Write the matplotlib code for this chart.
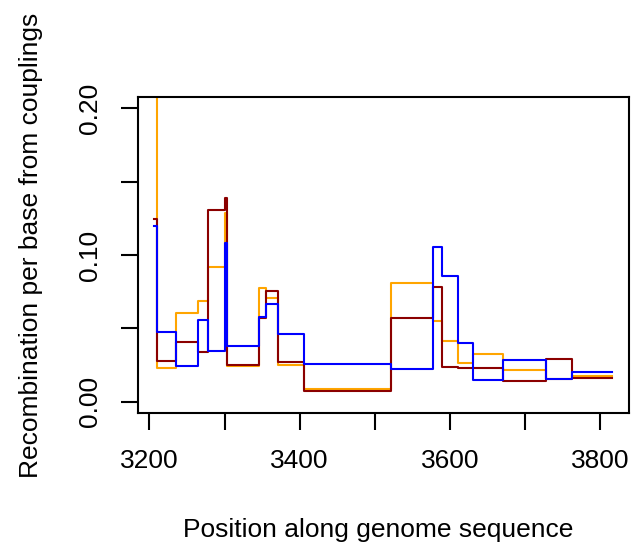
import matplotlib
matplotlib.use("Agg")
import matplotlib.pyplot as plt

# Breakpoints along the genome (segment edges)
positions = [3206.6, 3210.6, 3235.1, 3265.2, 3277.7, 3300.7, 3303.7, 3345.9,
             3354.8, 3371.5, 3405.7, 3521.4, 3577.7, 3589.2, 3610.1, 3630.9,
             3670.7, 3727.5, 3762.1, 3814.9]

# Per-segment values (one per interval between breakpoints)
orange_vals = [0.25, 0.0232, 0.0604, 0.069, 0.0922, 0.129, 0.0246, 0.0778,
               0.071, 0.025, 0.0087, 0.0808, 0.0553, 0.0417, 0.0262, 0.0326,
               0.0216, 0.0155, 0.0178]
darkred_vals = [0.1247, 0.0278, 0.0406, 0.0341, 0.1309, 0.139, 0.025, 0.057,
                0.0756, 0.0269, 0.0075, 0.0571, 0.0785, 0.0239, 0.0232, 0.0232,
                0.0139, 0.0292, 0.0164]
blue_vals = [0.1195, 0.0474, 0.0246, 0.0558, 0.0348, 0.108, 0.0382, 0.058,
             0.0667, 0.046, 0.0257, 0.0221, 0.1054, 0.086, 0.0399, 0.0148,
             0.0287, 0.0155, 0.0201]

x_ticks = [3200, 3300, 3400, 3500, 3600, 3700, 3800]
x_ticklabels = ["3200", "", "3400", "", "3600", "", "3800"]
y_ticks = [0.0, 0.05, 0.10, 0.15, 0.20]
y_ticklabels = ["0.00", "", "0.10", "", "0.20"]

plt.rcParams['font.family'] = ['Liberation Sans', 'DejaVu Sans']

W, H = 635, 544
fig = plt.figure(figsize=(W / 100, H / 100), dpi=100)
ax = fig.add_axes([137.5 / W, 1 - 413 / H, (629 - 137.5) / W, (413 - 97) / H])

lw = 1.5
for vals, col in [(orange_vals, "orange"), (darkred_vals, "darkred"), (blue_vals, "blue")]:
    ax.step(positions, vals + [vals[-1]], where="post", color=col, lw=lw)

ax.set_xlim(3184.3, 3837.9)
ax.set_ylim(-0.0077, 0.2078)

ax.set_xticks(x_ticks)
ax.set_xticklabels(x_ticklabels)
ax.set_yticks(y_ticks)
ax.set_yticklabels(y_ticklabels, rotation=90, va="center")

for sp in ax.spines.values():
    sp.set_linewidth(1.5)
ax.tick_params(axis="both", direction="out", length=12.2, width=1.5, labelsize=19)
ax.tick_params(axis="x", pad=14)
ax.tick_params(axis="y", pad=13)

fig.text(378 / W, 1 - 530 / H, "Position along genome sequence", ha="center", va="center", fontsize=19)
fig.text(31 / W, 1 - 245 / H, "Recombination per base from couplings", ha="center", va="center",
         rotation=90, fontsize=19)

fig.savefig("out.png", dpi=100)
